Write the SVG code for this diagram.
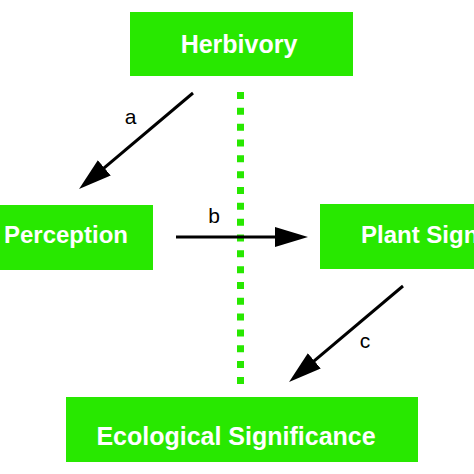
<svg xmlns="http://www.w3.org/2000/svg" width="474" height="474" viewBox="0 0 474 474">
  <style>
    .box { fill: #28e800; }
    .lbl { fill: #ffffff; font-family: "Liberation Sans", Arial, sans-serif; font-weight: bold; font-size: 24px; }
    .big { font-size: 25px; }
    .edge { stroke: #000000; stroke-width: 3; fill: none; }
    .elbl { fill: #000000; font-family: "Liberation Sans", Arial, sans-serif; font-size: 21px; text-anchor: middle; }
  </style>
  <defs>
    <marker id="arrow" markerUnits="userSpaceOnUse" markerWidth="34" markerHeight="22" refX="23" refY="10" orient="auto">
      <path d="M0,0 L33,10 L0,20 z" fill="#000000"/>
    </marker>
  </defs>
  <rect width="474" height="474" fill="#ffffff"/>
  <line x1="240.5" y1="92" x2="240.5" y2="386" stroke="#28e800" stroke-width="7" stroke-dasharray="7 8.83"/>
  <g id="herbivory">
    <rect class="box" x="130" y="12" width="223" height="64"/>
    <text class="lbl big" x="239" y="53" text-anchor="middle">Herbivory</text>
  </g>
  <g id="plant-perception">
    <rect class="box" x="-10" y="205" width="163" height="65"/>
    <text class="lbl" x="128" y="243" text-anchor="end">Plant Perception</text>
  </g>
  <g id="plant-signaling">
    <rect class="box" x="320" y="204" width="170" height="65"/>
    <text class="lbl" x="361" y="243">Plant Signaling</text>
  </g>
  <g id="ecological-significance">
    <rect class="box" x="66" y="397" width="352" height="65"/>
    <text class="lbl big" x="236" y="445" text-anchor="middle">Ecological Significance</text>
  </g>
  <g id="connectors">
    <line class="edge" x1="193" y1="93" x2="86.7" y2="182.6" marker-end="url(#arrow)"/>
    <text class="elbl" x="130.5" y="124">a</text>
    <line class="edge" x1="176" y1="237" x2="298" y2="237" marker-end="url(#arrow)"/>
    <text class="elbl" x="214" y="223">b</text>
    <line class="edge" x1="403" y1="286" x2="296.7" y2="375.6" marker-end="url(#arrow)"/>
    <text class="elbl" x="365" y="348">c</text>
  </g>
</svg>
